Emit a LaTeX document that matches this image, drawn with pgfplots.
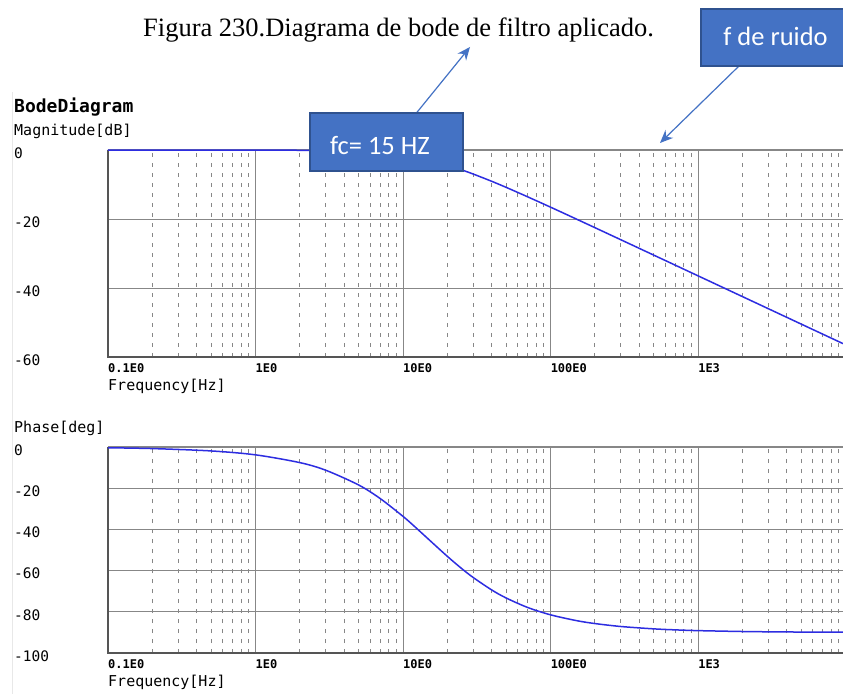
\documentclass[border=0pt]{standalone}
\usepackage{fontspec}
\setmainfont{Liberation Serif}
\setmonofont{DejaVu Sans Mono}
\newfontfamily\calibri{Carlito}
\usepackage{pgfplots}
\pgfplotsset{compat=1.18}
\usetikzlibrary{arrows.meta}

\definecolor{curveblue}{RGB}{45,45,225}
\definecolor{boxblue}{RGB}{68,114,196}
\definecolor{boxedge}{RGB}{47,82,143}
\definecolor{gridgray}{RGB}{135,135,135}
\definecolor{framegray}{RGB}{85,85,85}

% magnitude and phase of the filter (fc = 15 Hz)
\pgfplotstableread{
f     mag
0.1   0.000
0.2  -0.001
0.5  -0.005
1    -0.019
2    -0.077
3    -0.170
5    -0.458
7    -0.856
10   -1.597
12   -2.148
15   -3.010
20   -4.437
25   -5.772
30   -6.990
40   -9.091
50   -10.83
70   -13.58
100  -16.57
150  -20.04
200  -22.52
300  -26.03
500  -30.46
700  -33.38
1000 -36.48
2000 -42.50
3000 -46.02
5000 -50.46
7000 -53.38
9600 -56.12
}\magdata

\pgfplotstableread{
f     ph
0.1  -0.38
0.2  -0.76
0.5  -1.91
1    -3.81
2    -7.59
3    -11.31
5    -18.43
7    -25.02
10   -33.69
12   -38.66
15   -45.00
20   -53.13
25   -59.04
30   -63.43
40   -69.44
50   -73.30
70   -77.91
100  -81.47
150  -84.29
200  -85.71
300  -87.14
500  -88.28
700  -88.77
1000 -89.14
2000 -89.57
3000 -89.71
5000 -89.83
7000 -89.88
9600 -89.91
}\phdata

\pgfplotsset{
  every axis/.append style={
    scale only axis, width=735pt,
    clip=false,
    axis line style={draw=none},
    major tick length=0pt, minor tick length=0pt,
    xmajorgrids, xminorgrids, ymajorgrids,
    major grid style={gridgray, line width=1pt},
    minor grid style={gridgray, line width=1pt, dash pattern=on 4pt off 6pt},
    xticklabel style={anchor=north west, inner sep=0pt, yshift=-6pt,
      font=\ttfamily\bfseries\fontsize{12}{14}\selectfont},
    yticklabel style={anchor=west, inner sep=0pt, xshift=-94pt, yshift=-3pt,
      font=\ttfamily\fontsize{14.5}{16}\selectfont},
  },
  every axis x label/.style={at={(rel axis cs:0,0)}, anchor=north west,
    inner sep=0pt, yshift=-22pt, font=\ttfamily\fontsize{15}{17}\selectfont},
  every axis y label/.style={at={(rel axis cs:0,1)}, anchor=base west,
    inner sep=0pt, xshift=-94pt, yshift=15pt, font=\ttfamily\fontsize{15}{17}\selectfont},
  every axis title/.style={at={(rel axis cs:0,1)}, anchor=base west, inner sep=0pt,
    xshift=-94pt, yshift=38pt, font=\ttfamily\bfseries\fontsize{18}{20}\selectfont},
}

\begin{document}
\begin{tikzpicture}
\useasboundingbox (0pt,0pt) rectangle (843pt,694pt);
\fill[white] (0pt,0pt) rectangle (843pt,694pt);
\draw[gray!18, line width=1pt] (12pt,0pt) -- (12pt,602pt);

% magnitude
\begin{axis}[at={(108pt,337pt)}, anchor=south west, height=207pt,
  xmode=log, xmin=0.1, xmax=9600,
  xtick={0.1,1,10,100,1000},
  xticklabels={0.1E0,1E0,10E0,100E0,1E3},
  minor xtick={0.2,0.3,0.4,0.5,0.6,0.7,0.8,0.9,2,3,4,5,6,7,8,9,20,30,40,50,60,70,80,90,200,300,400,500,600,700,800,900,2000,3000,4000,5000,6000,7000,8000,9000},
  ymin=-60, ymax=0, ytick={-60,-40,-20,0}, yticklabels={-60,-40,-20,0},
  xlabel={Frequency[Hz]},
  ylabel={Magnitude[dB]},
  title={BodeDiagram}]
\draw[gridgray, line width=1.2pt] (rel axis cs:0,1) -- (rel axis cs:1,1);
\draw[framegray, line width=2pt] (rel axis cs:0,1) -- (rel axis cs:0,0) -- (rel axis cs:1,0);
\addplot[curveblue, line width=1.5pt, smooth] table[x=f, y=mag] {\magdata};
\end{axis}

% phase
\begin{axis}[at={(108pt,41pt)}, anchor=south west, height=206pt,
  xmode=log, xmin=0.1, xmax=9600,
  xtick={0.1,1,10,100,1000},
  xticklabels={0.1E0,1E0,10E0,100E0,1E3},
  minor xtick={0.2,0.3,0.4,0.5,0.6,0.7,0.8,0.9,2,3,4,5,6,7,8,9,20,30,40,50,60,70,80,90,200,300,400,500,600,700,800,900,2000,3000,4000,5000,6000,7000,8000,9000},
  ymin=-100, ymax=0, ytick={-100,-80,-60,-40,-20,0},
  yticklabels={-100,-80,-60,-40,-20,0},
  xlabel={Frequency[Hz]},
  ylabel={Phase[deg]}]
\draw[gridgray, line width=1.2pt] (rel axis cs:0,1) -- (rel axis cs:1,1);
\draw[framegray, line width=2pt] (rel axis cs:0,1) -- (rel axis cs:0,0) -- (rel axis cs:1,0);
\addplot[curveblue, line width=1.5pt, smooth] table[x=f, y=ph] {\phdata};
\end{axis}

% caption and call-outs
\node[anchor=base, font=\rmfamily\fontsize{26.5}{29}\selectfont] at (398.5pt,657pt)
  {Figura 230.Diagrama de bode de filtro aplicado.};

\draw[boxblue, line width=1.2pt, -{Stealth[length=13pt, width=11pt]}] (414pt,578pt) -- (470pt,647pt);
\draw[boxblue, line width=1.2pt, -{Stealth[length=13pt, width=11pt]}] (739pt,628pt) -- (660pt,551pt);

\draw[fill=boxblue, draw=boxedge, line width=1.5pt] (701pt,628pt) rectangle (850pt,685pt);
\node[anchor=base, text=white, font=\calibri\fontsize{26.5}{30}\selectfont] at (775.5pt,648pt) {f de ruido};

\draw[fill=boxblue, draw=boxedge, line width=1.5pt] (310pt,523pt) rectangle (463pt,581pt);
\node[anchor=base, text=white, font=\calibri\fontsize{26.5}{30}\selectfont] at (380pt,539pt) {fc= 15 HZ};
\end{tikzpicture}
\end{document}
